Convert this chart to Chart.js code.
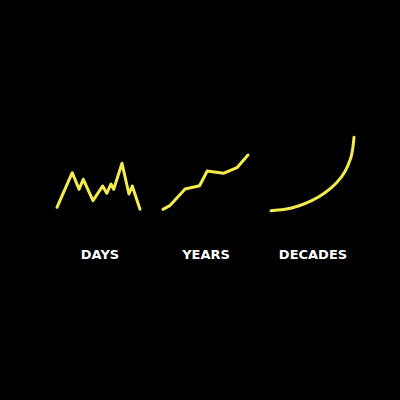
<!DOCTYPE html>
<html>
<head>
<meta charset="utf-8">
<script src="https://cdn.jsdelivr.net/npm/chart.js@4/dist/chart.umd.min.js"></script>
<style>
  html, body { margin: 0; padding: 0; background: #000; }
  #wrap { position: relative; width: 400px; height: 400px; background: #000; overflow: hidden; }
  .panel { position: absolute; }
  .label {
    position: absolute; color: #fff; font-family: "DejaVu Sans", sans-serif;
    font-weight: bold; font-size: 13px; line-height: 15px; text-align: center;
    width: 100px; letter-spacing: 0px;
  }
</style>
</head>
<body>
<div id="wrap">
  <div class="panel" style="left:53px;top:128px;"><canvas id="c1" width="91" height="88"></canvas></div>
  <div class="panel" style="left:159px;top:128px;"><canvas id="c2" width="93" height="88"></canvas></div>
  <div class="panel" style="left:267px;top:128px;"><canvas id="c3" width="91" height="88"></canvas></div>
  <div class="label" id="l1" style="left:50px;top:247px;"></div>
  <div class="label" id="l2" style="left:156px;top:247px;"></div>
  <div class="label" id="l3" style="left:263px;top:247px;"></div>
</div>
<script>
// Category labels
const panelLabels = ["DAYS", "YEARS", "DECADES"];

// DAYS series: time (days) and value
const daysX = [0, 5.5, 8, 9.5, 13, 16.5, 18, 19.5, 20.5, 23.5, 26, 27.2, 30];
const daysY = [4.7, 39.3, 22.7, 32.7, 11.3, 26, 18.7, 28, 22.7, 48.7, 18, 26, 2.7];

// YEARS series
const yearsX = [0, 0.8, 2.6, 4.3, 5.2, 7.1, 8.7, 10];
const yearsY = [2.7, 6.3, 23, 26.3, 41, 38.7, 44.3, 57];

// DECADES series
const decadesX = [0, 1.7, 3.3, 4.9, 6.5, 7.9, 8.9, 9.6, 9.85, 10];
const decadesY = [1.3, 2.7, 6, 11.3, 19.3, 29.3, 40.3, 53.7, 63.7, 74.7];

const LINE_COLOR = "#f3ec4c";

function pts(xs, ys) { return xs.map((x, i) => ({ x: x, y: ys[i] })); }

function makeChart(id, xs, ys, xMax, smooth) {
  new Chart(document.getElementById(id), {
    type: "line",
    data: {
      datasets: [{
        data: pts(xs, ys),
        borderColor: LINE_COLOR,
        borderWidth: 3,
        pointRadius: 0,
        borderCapStyle: "round",
        borderJoinStyle: "round",
        tension: smooth ? 0.3 : 0,
        fill: false,
        clip: false
      }]
    },
    options: {
      responsive: false,
      animation: false,
      devicePixelRatio: 1,
      layout: { padding: 4 },
      plugins: { legend: { display: false }, tooltip: { enabled: false } },
      scales: {
        x: { type: "linear", min: 0, max: xMax, display: false },
        y: { type: "linear", min: 0, max: 80, display: false }
      }
    }
  });
}

makeChart("c1", daysX, daysY, 30, false);
makeChart("c2", yearsX, yearsY, 10, false);
makeChart("c3", decadesX, decadesY, 10, true);

["l1", "l2", "l3"].forEach((id, i) => { document.getElementById(id).textContent = panelLabels[i]; });
</script>
</body>
</html>
